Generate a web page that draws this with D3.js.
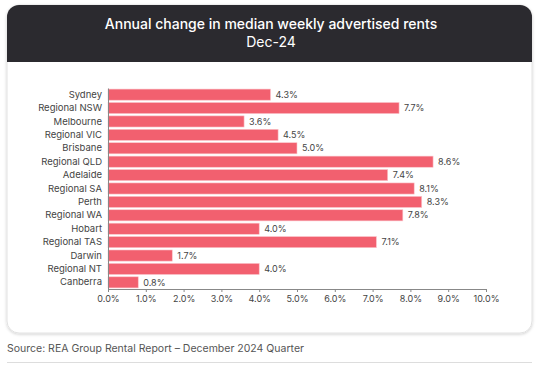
<!DOCTYPE html>
<html>
<head>
<meta charset="utf-8">
<script src="https://cdn.jsdelivr.net/npm/d3@7"></script>
<style>
  body { margin: 0; background: #fff; font-family: Inter, "Noto Sans", sans-serif; }
</style>
</head>
<body>
<div id="container"></div>
<script>
/* DATA */
const regions = ["Sydney", "Regional NSW", "Melbourne", "Regional VIC", "Brisbane", "Regional QLD",
  "Adelaide", "Regional SA", "Perth", "Regional WA", "Hobart", "Regional TAS", "Darwin", "Regional NT", "Canberra"];
const changes = [4.3, 7.7, 3.6, 4.5, 5.0, 8.6, 7.4, 8.1, 8.3, 7.8, 4.0, 7.1, 1.7, 4.0, 0.8];
const xTicks = [0, 1, 2, 3, 4, 5, 6, 7, 8, 9, 10];
const titleLines = ["Annual change in median weekly advertised rents", "Dec-24"];
const source = "Source: REA Group Rental Report \u2013 December 2024 Quarter";

const data = regions.map((r, i) => ({ region: r, value: changes[i] }));

const W = 539, H = 365;
const svg = d3.select("#container").append("svg")
  .attr("width", W).attr("height", H);

// card shadow + card
const defs = svg.append("defs");
const f = defs.append("filter").attr("id", "sh").attr("x", -0.1).attr("y", -0.1).attr("width", 1.2).attr("height", 1.2);
f.append("feDropShadow").attr("dx", 0).attr("dy", 1).attr("stdDeviation", 1.5).attr("flood-color", "#000").attr("flood-opacity", 0.18);
defs.append("clipPath").attr("id", "card").append("rect")
  .attr("x", 7).attr("y", 5).attr("width", 525).attr("height", 328).attr("rx", 12);

svg.append("rect").attr("x", 7).attr("y", 5).attr("width", 525).attr("height", 328).attr("rx", 12)
  .attr("fill", "#fff").attr("stroke", "#e2e2e2").attr("filter", "url(#sh)");
svg.append("rect").attr("x", 7).attr("y", 5).attr("width", 525).attr("height", 57)
  .attr("fill", "#2b2a2f").attr("clip-path", "url(#card)");

svg.selectAll("text.title").data(titleLines).join("text")
  .attr("class", "title")
  .attr("x", 271).attr("y", (d, i) => 29 + i * 18)
  .attr("text-anchor", "middle").attr("fill", "#fff")
  .attr("font-size", 14).attr("font-weight", (d, i) => i === 0 ? 500 : 400)
  .text(d => d);

// scales
const x = d3.scaleLinear().domain([0, 10]).range([108, 486]);
const y = d3.scaleBand().domain(regions).range([88, 289]).paddingInner(0.17).paddingOuter(0.08);

// bars
svg.selectAll("rect.bar").data(data).join("rect")
  .attr("class", "bar")
  .attr("x", x(0))
  .attr("y", d => y(d.region))
  .attr("width", d => x(d.value) - x(0))
  .attr("height", y.bandwidth())
  .attr("fill", "#f2606f")
  .attr("stroke", "#fbc6cc").attr("stroke-width", 0.6);

// value labels
svg.selectAll("text.val").data(data).join("text")
  .attr("class", "val")
  .attr("x", d => x(d.value) + 5)
  .attr("y", d => y(d.region) + y.bandwidth() / 2)
  .attr("dy", "0.35em")
  .attr("font-size", 9).attr("fill", "#444")
  .text(d => d.value.toFixed(1) + "%");

// y axis
const yAxis = svg.append("g")
  .attr("transform", `translate(${x(0)},0)`)
  .call(d3.axisLeft(y).tickSize(0).tickPadding(6));
yAxis.select(".domain").attr("stroke", "#888");
yAxis.selectAll("text").attr("font-size", 9.5).attr("fill", "#444").attr("font-family", "Inter, sans-serif");

// x axis
const xAxis = svg.append("g")
  .attr("transform", "translate(0,289)")
  .call(d3.axisBottom(x).tickValues(xTicks).tickSize(3).tickSizeOuter(0).tickPadding(4)
    .tickFormat(d => d.toFixed(1) + "%"));
xAxis.selectAll(".domain, line").attr("stroke", "#888");
xAxis.selectAll("text").attr("font-size", 9).attr("fill", "#444").attr("font-family", "Inter, sans-serif");

// source
svg.append("text").attr("x", 7).attr("y", 352)
  .attr("font-size", 10.5).attr("fill", "#555")
  .text(source);
svg.append("line").attr("x1", 7).attr("x2", 532).attr("y1", 362.5).attr("y2", 362.5)
  .attr("stroke", "#ddd");
</script>
</body>
</html>
